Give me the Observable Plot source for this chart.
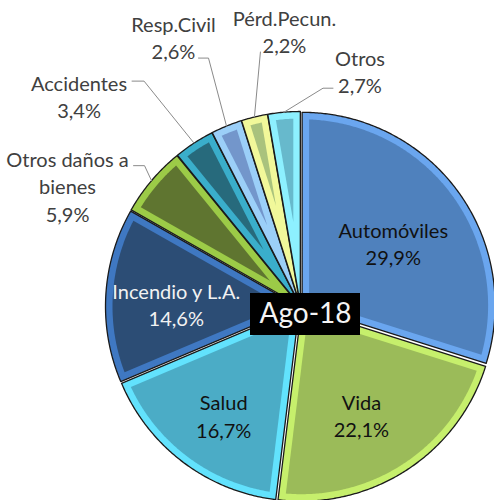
<!DOCTYPE html>
<html>
<head>
<meta charset="utf-8">
<script src="https://cdn.jsdelivr.net/npm/d3@7"></script>
<script src="https://cdn.jsdelivr.net/npm/@observablehq/plot@0.6"></script>
<style>
  html, body { margin: 0; padding: 0; background: #fff; }
  #chart svg { display: block; }
</style>
</head>
<body>
<div id="chart"></div>
<script>
// ---- data ----
const categories = ["Automóviles", "Vida", "Salud", "Incendio y L.A.", "Otros daños a bienes", "Accidentes", "Resp.Civil", "Pérd.Pecun.", "Otros"];
const labelNames = ["Automóviles", "Vida", "Salud", "Incendio y L.A.", "Otros daños a\nbienes", "Accidentes", "Resp.Civil", "Pérd.Pecun.", "Otros"];
const shares = [29.9, 22.1, 16.7, 14.6, 5.9, 3.4, 2.6, 2.2, 2.7];
const period = "Ago-18";

// ---- styles ----
const fills  = ["#4f81bd", "#9bbb59", "#4bacc6", "#2c4d75", "#5f7530", "#276a7c", "#7396cb", "#a9c27d", "#67b9cc"];
const bevels = ["#6aa6ef", "#c6ef6c", "#62e2fd", "#3f78c2", "#9ccb47", "#3aaecb", "#9bcff8", "#f1f89a", "#8df0ff"];
const insideLabel = [true, true, true, true, false, false, false, false, false];
const insideColor = ["#111", "#111", "#111", "#f2f2f2"];
// nudges (pixels) of inside label centers from the point at 0.65 R on the bisector
const insideNudge = {0: [-10, 12], 1: [-8, 1], 2: [0, 7], 3: [3, 5]};
// nudges (pixels) of outside label block centers from the slice's outer-edge point
const outsideNudge = {4: [-84, 5], 5: [-115, -47], 6: [-53, -89], 7: [30, -86], 8: [76, -41]};
// leader polyline points relative to label center (after the slice edge point)
const leaderRel = {
  4: [[77, -20], [66, -20]],
  5: [[65, -15], [53, -15]],
  6: [[35, 21], [25, 21]],
  7: [[-24, 21]],
  8: [[-37, 17], [-27, 17]]
};

// ---- geometry ----
const W = 494, H = 500;
const CX = 300, CY = 306, R = 193, EXPLODE = 2, BEVEL = 7;
const BADGE = {cx: 5, cy: 8, w: 110, h: 42};
const pt = (a, r) => [r * Math.sin(a), -r * Math.cos(a)];
function arcPts(a0, a1, r) {
  const n = Math.max(2, Math.ceil((a1 - a0) / (Math.PI / 360)));
  return d3.range(n + 1).map(i => pt(a0 + (a1 - a0) * i / n, r));
}

const arcs = d3.pie().sort(null).value(d => d)(shares);
const outerPts = [], innerPts = [], slices = [];
arcs.forEach((a, i) => {
  const mid = (a.startAngle + a.endAngle) / 2;
  const [ox, oy] = pt(mid, EXPLODE);
  const add = p => ({x: p[0] + ox, y: p[1] + oy, k: i});
  [[0, 0], ...arcPts(a.startAngle, a.endAngle, R)].forEach(p => outerPts.push(add(p)));
  const half = (a.endAngle - a.startAngle) / 2;
  const del = Math.asin(BEVEL / (R - BEVEL));
  [pt(mid, BEVEL / Math.sin(half)), ...arcPts(a.startAngle + del, a.endAngle - del, R - BEVEL)]
    .forEach(p => innerPts.push(add(p)));
  const edge = pt(mid, R);
  slices.push({i, mid, ox, oy, edge: [edge[0] + ox, edge[1] + oy]});
});

const pct = v => v.toFixed(1).replace(".", ",") + "%";

const inside = slices.filter(s => insideLabel[s.i]).map(s => {
  const p = pt(s.mid, R * 0.65), n = insideNudge[s.i];
  return {x: p[0] + s.ox + n[0], y: p[1] + s.oy + n[1], text: labelNames[s.i] + "\n" + pct(shares[s.i]), color: insideColor[s.i]};
});
const outside = slices.filter(s => !insideLabel[s.i]).map(s => {
  const n = outsideNudge[s.i];
  return {i: s.i, x: s.edge[0] + n[0], y: s.edge[1] + n[1], text: labelNames[s.i] + "\n" + pct(shares[s.i]), edge: s.edge};
});
const leaders = [];
outside.forEach(o => {
  leaders.push({x: o.edge[0], y: o.edge[1], k: o.i});
  leaderRel[o.i].forEach(r => leaders.push({x: o.x + r[0], y: o.y + r[1], k: o.i}));
});

const font = "Lato, 'Open Sans', sans-serif";
const marks = [];
arcs.forEach((a, i) => {
  marks.push(Plot.line(outerPts.filter(d => d.k === i), {x: "x", y: "y", curve: "linear-closed", fill: bevels[i], stroke: "#1a1a1a", strokeWidth: 1.3, strokeLinejoin: "round"}));
  marks.push(Plot.line(innerPts.filter(d => d.k === i), {x: "x", y: "y", curve: "linear-closed", fill: fills[i], stroke: "none"}));
});
marks.push(Plot.line(leaders, {x: "x", y: "y", z: "k", stroke: "#8a8a8a", strokeWidth: 1}));
["#111", "#f2f2f2"].forEach(c => {
  marks.push(Plot.text(inside.filter(d => d.color === c), {x: "x", y: "y", text: "text", fill: c, fontSize: 20, lineHeight: 1.36, fontFamily: font}));
});
marks.push(Plot.text(outside, {x: "x", y: "y", text: "text", fill: "#404040", fontSize: 20, lineHeight: 1.36, fontFamily: font}));
// period badge
marks.push(Plot.rect([period], {
  x1: () => BADGE.cx - BADGE.w / 2, x2: () => BADGE.cx + BADGE.w / 2,
  y1: () => BADGE.cy - BADGE.h / 2, y2: () => BADGE.cy + BADGE.h / 2, fill: "#000"
}));
marks.push(Plot.text([period], {x: () => BADGE.cx, y: () => BADGE.cy, text: d => d, fill: "#f4f4f4", fontSize: 28, fontFamily: font, style: {letterSpacing: "1px"}}));

const chart = Plot.plot({
  width: W, height: H,
  margin: 0,
  style: {background: "#fff", overflow: "visible"},
  x: {domain: [-CX, W - CX], range: [0, W], axis: null},
  y: {domain: [-CY, H - CY], range: [0, H], axis: null},
  marks
});
document.getElementById("chart").appendChild(chart);
</script>
</body>
</html>
